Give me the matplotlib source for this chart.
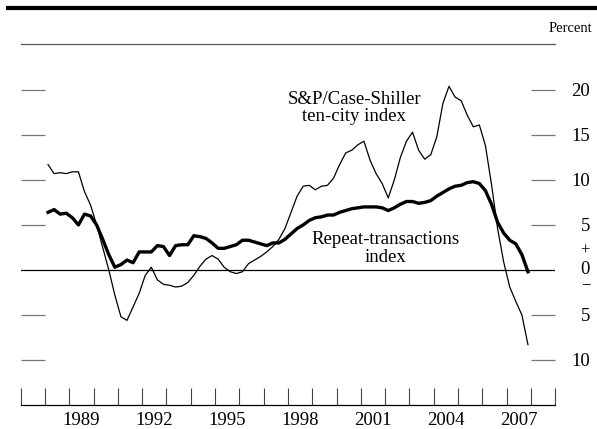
import numpy as np
import matplotlib
matplotlib.use("Agg")
import matplotlib.pyplot as plt
from matplotlib.lines import Line2D

plt.rcParams['font.family'] = ['Liberation Serif', 'DejaVu Serif']

# four-quarter percent change, quarterly 1988:Q1 - 2007:Q4
case_shiller = [
    11.7, 10.7, 10.8, 10.7, 10.9, 10.9, 8.7, 7.2,
    5.0, 2.5, 0.0, -2.8, -5.2, -5.6, -4.1, -2.6,
    -0.6, 0.3, -1.1, -1.6, -1.7, -1.9, -1.8, -1.4,
    -0.6, 0.4, 1.2, 1.6, 1.2, 0.3, -0.2, -0.4,
    -0.2, 0.7, 1.1, 1.5, 2.0, 2.6, 3.4, 4.6,
    6.4, 8.2, 9.3, 9.4, 8.9, 9.3, 9.4, 10.2,
    11.7, 13.0, 13.3, 13.9, 14.3, 12.2, 10.7, 9.6,
    8.0, 10.0, 12.5, 14.3, 15.3, 13.3, 12.3, 12.8,
    14.8, 18.5, 20.4, 19.2, 18.8, 17.2, 15.9, 16.1,
    13.8, 9.5, 4.6, 0.9, -1.9, -3.5, -5.0, -8.3,
]
repeat_trans = [
    6.4, 6.7, 6.2, 6.3, 5.8, 5.0, 6.2, 6.0,
    5.0, 3.4, 1.7, 0.3, 0.6, 1.1, 0.8, 2.0,
    2.0, 2.0, 2.7, 2.6, 1.6, 2.7, 2.8, 2.8,
    3.8, 3.7, 3.5, 3.0, 2.4, 2.4, 2.6, 2.8,
    3.3, 3.3, 3.1, 2.9, 2.7, 3.0, 3.0, 3.4,
    4.0, 4.6, 5.0, 5.5, 5.8, 5.9, 6.1, 6.1,
    6.4, 6.6, 6.8, 6.9, 7.0, 7.0, 7.0, 6.9,
    6.6, 6.9, 7.3, 7.6, 7.6, 7.4, 7.5, 7.7,
    8.2, 8.6, 9.0, 9.3, 9.4, 9.7, 9.8, 9.6,
    8.8, 7.3, 5.3, 4.1, 3.3, 2.9, 1.7, -0.2,
]
start_year = 1988
year_labels = [1989, 1992, 1995, 1998, 2001, 2004, 2007]
right_ticks = [20, 15, 10, 5, -5, -10]
right_labels = ['20', '15', '10', '5', '5', '10']

t = start_year + 0.125 + 0.25 * np.arange(len(case_shiller))

fig = plt.figure(figsize=(5.97, 4.29), dpi=100)
ax = fig.add_axes([20.7 / 597, 24 / 429, (555.3 - 20.7) / 597, (405 - 43.5) / 429])

ax.plot(t, case_shiller, color='black', lw=0.9)
ax.plot(t, repeat_trans, color='black', lw=2.4, solid_joinstyle='round')
ax.axhline(0, color='black', lw=0.9)

ax.set_xlim(1987, 2009)
ax.set_ylim(-15, 25.15)

for s in ['left', 'right']:
    ax.spines[s].set_visible(False)
ax.spines['top'].set_color('#555555')
ax.spines['top'].set_linewidth(0.9)
ax.spines['bottom'].set_linewidth(0.9)

# x axis: yearly ticks, labels at mid-year
ax.set_xticks(np.arange(1987, 2010))
ax.set_xticklabels([])
ax.tick_params(axis='x', which='major', direction='in', length=12, width=0.8, color='#444444')
ax.set_xticks([y + 0.5 for y in year_labels], minor=True)
ax.set_xticklabels([str(y) for y in year_labels], minor=True, fontsize=13.5)
ax.tick_params(axis='x', which='minor', length=0, pad=5)

# y axis: inward ticks both sides, labels right only
ax.set_yticks(right_ticks)
ax.set_yticklabels(right_labels, fontsize=13.5)
ax.tick_params(axis='y', direction='in', length=17, width=0.9, color='#777777',
               left=True, right=True, labelleft=False, labelright=True, pad=25)
for lab in ax.get_yticklabels():
    lab.set_horizontalalignment('right')

# the +0- label
tr = ax.get_yaxis_transform()
lx = 1.0 + 25 / 72 * 100 / 534.6
ax.text(lx, 2.1, '+', transform=tr, ha='right', va='center', fontsize=12)
ax.text(lx, 0.0, '0', transform=tr, ha='right', va='center', fontsize=13.5)
ax.text(lx, -1.7, '\u2212', transform=tr, ha='right', va='center', fontsize=12)

ax.text(2000.72, 18.0, 'S&P/Case-Shiller\nten-city index', ha='center', va='center',
        fontsize=13.5, linespacing=1.05)
ax.text(2002.0, 2.4, 'Repeat-transactions\nindex', ha='center', va='center',
        fontsize=13.5, linespacing=1.05)

fig.text(592 / 597, 1 - 28 / 429, 'Percent', ha='right', va='center', fontsize=10.5)
fig.add_artist(Line2D([8 / 597, 1.0], [1 - 7.5 / 429, 1 - 7.5 / 429], color='black', lw=3,
                      transform=fig.transFigure))

fig.savefig('out.png', dpi=100)
